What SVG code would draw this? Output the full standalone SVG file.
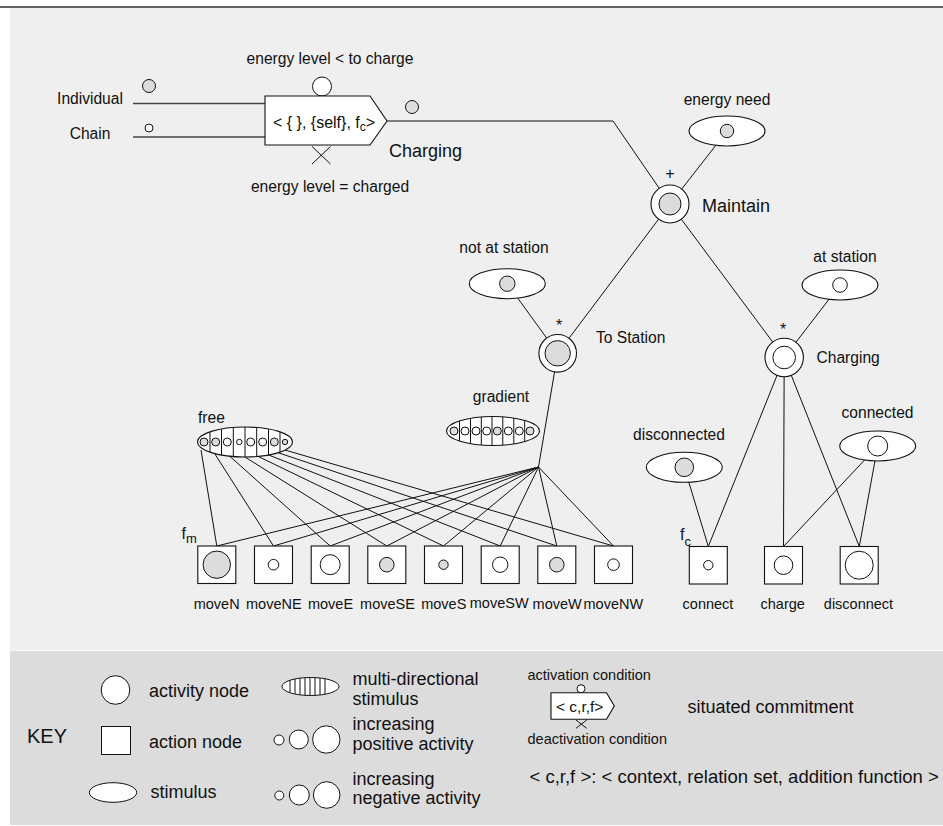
<svg xmlns="http://www.w3.org/2000/svg" width="943" height="826" viewBox="0 0 943 826">
<defs>
<style>
text{font-family:"Liberation Sans",Arial,Helvetica,sans-serif;fill:#111}
.lbl{font-size:15.6px}
.mid{text-anchor:middle}
.big{font-size:18px}
.act{font-size:14.5px;text-anchor:middle}
.key{font-size:18px}
.small{font-size:14.5px}
.ln{stroke:#111;stroke-width:1;fill:none}
.feed{stroke:#444;stroke-width:1.5;fill:none}
.shape{fill:#fff;stroke:#111;stroke-width:1.1}
.on{fill:#dcdcdc;stroke:#111;stroke-width:1}
.off{fill:#fff;stroke:#111;stroke-width:1}
.strip{stroke:#111;stroke-width:1}
</style>
<clipPath id="clipFree"><ellipse cx="245" cy="442" rx="47.5" ry="15"/></clipPath>
<clipPath id="clipGrad"><ellipse cx="493" cy="431" rx="46.5" ry="14.5"/></clipPath>
<clipPath id="clipKeyMulti"><ellipse cx="310.5" cy="686.5" rx="28.5" ry="9"/></clipPath>
</defs>

<!-- panels -->
<rect x="0" y="0" width="943" height="826" fill="#fff"/>
<rect x="10" y="8" width="933" height="642" fill="#efefef"/>
<rect x="10" y="650" width="933" height="175" fill="#dcdcdc"/>
<line x1="10" y1="650.5" x2="943" y2="650.5" stroke="#fafafa" stroke-width="1"/>
<line x1="0" y1="7" x2="943" y2="7" stroke="#666" stroke-width="2"/>

<!-- connectors -->
<g id="connectors">
  <line class="feed" x1="133" y1="103.5" x2="265" y2="103.5"/>
  <line class="feed" x1="133" y1="137" x2="265" y2="137"/>
  <polyline class="ln" points="387,121 613,121 670,204"/>
  <line class="ln" x1="727" y1="131" x2="670" y2="204"/>
  <line class="ln" x1="670" y1="204" x2="557.7" y2="353.3"/>
  <line class="ln" x1="670" y1="204" x2="784.2" y2="357.5"/>
  <line class="ln" x1="507.3" y1="283.7" x2="557.7" y2="353.3"/>
  <line class="ln" x1="840" y1="285" x2="784.2" y2="357.5"/>
  <line class="ln" x1="557.7" y1="353.3" x2="538.5" y2="467"/>
  <!-- hub to move actions -->
  <line class="ln" x1="538.5" y1="467" x2="216.8" y2="546"/>
  <line class="ln" x1="538.5" y1="467" x2="273.5" y2="546"/>
  <line class="ln" x1="538.5" y1="467" x2="330.2" y2="546"/>
  <line class="ln" x1="538.5" y1="467" x2="386.8" y2="546"/>
  <line class="ln" x1="538.5" y1="467" x2="443.5" y2="546"/>
  <line class="ln" x1="538.5" y1="467" x2="500.2" y2="546"/>
  <line class="ln" x1="538.5" y1="467" x2="556.8" y2="546"/>
  <line class="ln" x1="538.5" y1="467" x2="613.5" y2="546"/>
  <!-- free stimulus to move actions -->
  <line class="ln" x1="201" y1="450" x2="216.8" y2="546"/>
  <line class="ln" x1="213" y1="451" x2="273.5" y2="546"/>
  <line class="ln" x1="225" y1="452" x2="330.2" y2="546"/>
  <line class="ln" x1="237" y1="452" x2="386.8" y2="546"/>
  <line class="ln" x1="249" y1="452" x2="443.5" y2="546"/>
  <line class="ln" x1="261" y1="452" x2="500.2" y2="546"/>
  <line class="ln" x1="273" y1="451" x2="556.8" y2="546"/>
  <line class="ln" x1="285" y1="450" x2="613.5" y2="546"/>
  <!-- charging behaviour -->
  <line class="ln" x1="784.2" y1="357.5" x2="708.3" y2="546.5"/>
  <line class="ln" x1="784.2" y1="357.5" x2="783.5" y2="546.5"/>
  <line class="ln" x1="784.2" y1="357.5" x2="859.3" y2="546.5"/>
  <line class="ln" x1="684.3" y1="467.3" x2="708.3" y2="546.5"/>
  <line class="ln" x1="877.7" y1="446" x2="783.5" y2="546.5"/>
  <line class="ln" x1="877.7" y1="446" x2="859.3" y2="546.5"/>
</g>

<!-- inputs -->
<g id="input-individual">
  <text class="lbl mid" x="90" y="103.5">Individual</text>
  <circle class="on" cx="149" cy="86" r="6.5"/>
</g>
<g id="input-chain">
  <text class="lbl mid" x="90" y="138.5">Chain</text>
  <circle class="off" cx="149" cy="128" r="4"/>
</g>

<!-- situated commitment -->
<g id="commitment-charging">
  <text class="lbl mid" x="330" y="63.5">energy level &lt; to charge</text>
  <circle class="off" cx="322" cy="86.5" r="9.5"/>
  <polygon class="shape" points="265,96 370,96 387,121 370,145 265,145"/>
  <text x="273" y="128" style="font-size:16px">&lt; { }, {self}, f<tspan dy="3" style="font-size:12px">c</tspan><tspan dy="-3">&gt;</tspan></text>
  <path class="ln" d="M312,146.5 L330.5,164 M330.5,146.5 L312,164"/>
  <text class="lbl mid" x="330" y="191.5">energy level = charged</text>
  <text class="big" x="389" y="157">Charging</text>
  <circle class="on" cx="412" cy="107" r="6.5"/>
</g>

<!-- activity nodes -->
<g id="node-maintain">
  <circle class="shape" cx="670" cy="204" r="19"/>
  <circle class="on" cx="670" cy="204" r="11"/>
  <text class="mid" x="670" y="178.5" style="font-size:16px">+</text>
  <text class="big" x="702" y="212">Maintain</text>
</g>
<g id="node-to-station">
  <circle class="shape" cx="557.7" cy="353.3" r="18.8"/>
  <circle class="on" cx="557.7" cy="353.3" r="12.7"/>
  <text class="mid" x="559" y="331" style="font-size:16px">*</text>
  <text class="lbl" x="596" y="343">To Station</text>
</g>
<g id="node-charging">
  <circle class="shape" cx="784.2" cy="357.5" r="19.2"/>
  <circle class="off" cx="784.2" cy="357.5" r="11.3"/>
  <text class="mid" x="783" y="335" style="font-size:16px">*</text>
  <text class="lbl" x="816.5" y="362.5">Charging</text>
</g>

<!-- stimuli -->
<g id="stim-energy-need">
  <text class="lbl mid" x="727" y="105">energy need</text>
  <ellipse class="shape" cx="727" cy="131" rx="38" ry="15"/>
  <circle class="on" cx="727" cy="131" r="6.7"/>
</g>
<g id="stim-not-at-station">
  <text class="lbl mid" x="504" y="253">not at station</text>
  <ellipse class="shape" cx="507.3" cy="283.7" rx="38" ry="15"/>
  <circle class="on" cx="507.3" cy="283.7" r="7.7"/>
</g>
<g id="stim-at-station">
  <text class="lbl mid" x="845" y="261.5">at station</text>
  <ellipse class="shape" cx="840" cy="285" rx="38" ry="15"/>
  <circle class="off" cx="840" cy="285" r="7.3"/>
</g>
<g id="stim-disconnected">
  <text class="lbl mid" x="679" y="439.5">disconnected</text>
  <ellipse class="shape" cx="684.3" cy="467.3" rx="38" ry="15"/>
  <circle class="on" cx="684.3" cy="467.3" r="9.3"/>
</g>
<g id="stim-connected">
  <text class="lbl mid" x="877.5" y="417.5">connected</text>
  <ellipse class="shape" cx="877.7" cy="446" rx="38" ry="15"/>
  <circle class="off" cx="877.7" cy="446" r="10"/>
</g>
<g id="stim-free">
  <text class="lbl" x="198" y="422.5">free</text>
  <ellipse cx="245" cy="442" rx="47.5" ry="15" fill="#fff"/>
  <g clip-path="url(#clipFree)">
    <path class="strip" d="M210,425V460M221.5,425V460M233.3,425V460M245,425V460M256.7,425V460M268.5,425V460M280,425V460"/>
  </g>
  <circle class="on" cx="204" cy="442" r="4"/>
  <circle class="on" cx="215.7" cy="442" r="4"/>
  <circle class="off" cx="227.3" cy="442" r="4"/>
  <circle class="off" cx="239.3" cy="442" r="2.7"/>
  <circle class="off" cx="250.7" cy="442" r="4"/>
  <circle class="off" cx="262.7" cy="442" r="4"/>
  <circle class="on" cx="274.3" cy="442" r="4"/>
  <circle class="on" cx="285" cy="442" r="2.7"/>
  <ellipse cx="245" cy="442" rx="47.5" ry="15" fill="none" stroke="#111" stroke-width="1.1"/>
</g>
<g id="stim-gradient">
  <text class="lbl mid" x="501" y="402">gradient</text>
  <ellipse cx="493" cy="431" rx="46.5" ry="14.5" fill="#fff"/>
  <g clip-path="url(#clipGrad)">
    <path class="strip" d="M459.5,414V448M470.5,414V448M481.3,414V448M492,414V448M502.8,414V448M513.8,414V448M524.7,414V448"/>
  </g>
  <circle class="on" cx="454" cy="431" r="4"/>
  <circle class="off" cx="465" cy="431" r="4"/>
  <circle class="off" cx="476" cy="431" r="4"/>
  <circle class="off" cx="486.7" cy="431" r="4"/>
  <circle class="on" cx="497.3" cy="431" r="4"/>
  <circle class="off" cx="508.3" cy="431" r="4"/>
  <circle class="off" cx="519.3" cy="431" r="4"/>
  <circle class="on" cx="530" cy="431" r="4"/>
  <ellipse cx="493" cy="431" rx="46.5" ry="14.5" fill="none" stroke="#111" stroke-width="1.1"/>
</g>

<!-- move action nodes -->
<text x="181.5" y="538.5" style="font-size:16px">f<tspan dy="4.5" style="font-size:13px">m</tspan></text>
<g id="act-moveN">
  <rect class="shape" x="197.8" y="546" width="38" height="37.5"/>
  <circle class="on" cx="216.8" cy="564.7" r="13.7"/>
  <text class="act" x="216.7" y="608.5">moveN</text>
</g>
<g id="act-moveNE">
  <rect class="shape" x="254.5" y="546" width="38" height="37.5"/>
  <circle class="off" cx="273.5" cy="564.7" r="5.3"/>
  <text class="act" x="273.8" y="608.5">moveNE</text>
</g>
<g id="act-moveE">
  <rect class="shape" x="311.2" y="546" width="38" height="37.5"/>
  <circle class="off" cx="330.2" cy="564.7" r="10"/>
  <text class="act" x="330.5" y="608.5">moveE</text>
</g>
<g id="act-moveSE">
  <rect class="shape" x="367.8" y="546" width="38" height="37.5"/>
  <circle class="on" cx="386.8" cy="564.7" r="7.3"/>
  <text class="act" x="387.5" y="608.5">moveSE</text>
</g>
<g id="act-moveS">
  <rect class="shape" x="424.5" y="546" width="38" height="37.5"/>
  <circle class="on" cx="443.5" cy="564.7" r="4.7"/>
  <text class="act" x="443.8" y="608.5">moveS</text>
</g>
<g id="act-moveSW">
  <rect class="shape" x="481.2" y="546" width="38" height="37.5"/>
  <circle class="off" cx="500.2" cy="564.7" r="7.7"/>
  <text class="act" x="499.2" y="608">moveSW</text>
</g>
<g id="act-moveW">
  <rect class="shape" x="537.8" y="546" width="38" height="37.5"/>
  <circle class="on" cx="556.8" cy="564.7" r="7.3"/>
  <text class="act" x="557.2" y="608.5">moveW</text>
</g>
<g id="act-moveNW">
  <rect class="shape" x="594.5" y="546" width="38" height="37.5"/>
  <circle class="off" cx="613.5" cy="564.7" r="5.8"/>
  <text class="act" x="613.3" y="608.5">moveNW</text>
</g>

<!-- charging action nodes -->
<text x="680" y="540" style="font-size:16px">f<tspan dy="5.5" style="font-size:13px">c</tspan></text>
<g id="act-connect">
  <rect class="shape" x="689.3" y="546.5" width="38" height="37.5"/>
  <circle class="off" cx="708.3" cy="565.2" r="4.7"/>
  <text class="act" x="708" y="608.5">connect</text>
</g>
<g id="act-charge">
  <rect class="shape" x="764.5" y="546.5" width="38" height="37.5"/>
  <circle class="off" cx="783.5" cy="565.2" r="9.3"/>
  <text class="act" x="782.7" y="608.5">charge</text>
</g>
<g id="act-disconnect">
  <rect class="shape" x="840.2" y="546.5" width="38" height="37.5"/>
  <circle class="off" cx="859.2" cy="565.2" r="14"/>
  <text class="act" x="858.5" y="608.5">disconnect</text>
</g>

<!-- key -->
<g id="key">
  <text x="27" y="743" style="font-size:20px">KEY</text>
  <circle class="off" cx="115.5" cy="690" r="14.3"/>
  <text class="key" x="149" y="696.5">activity node</text>
  <rect class="off" x="101.5" y="726.5" width="29" height="28"/>
  <text class="key" x="149" y="747.5">action node</text>
  <ellipse class="off" cx="113" cy="792.5" rx="23.7" ry="9.8"/>
  <text class="key" x="150.5" y="797.5">stimulus</text>

  <ellipse cx="310.5" cy="686.5" rx="28.5" ry="9" fill="#fff"/>
  <g clip-path="url(#clipKeyMulti)">
    <path class="strip" d="M290,676V698M295,676V698M300,676V698M305,676V698M310,676V698M315,676V698M320,676V698M325,676V698"/>
  </g>
  <ellipse cx="310.5" cy="686.5" rx="28.5" ry="9" fill="none" stroke="#111" stroke-width="1"/>
  <text class="key" x="352.5" y="684.5">multi-directional</text>
  <text class="key" x="352.5" y="705">stimulus</text>

  <circle class="off" cx="279" cy="740" r="5"/>
  <circle class="off" cx="298.8" cy="739.5" r="9.5"/>
  <circle class="off" cx="326.3" cy="739.5" r="13.7"/>
  <text class="key" x="352.5" y="730">increasing</text>
  <text class="key" x="352.5" y="749.5">positive activity</text>

  <circle class="off" cx="279.3" cy="795.5" r="4.5"/>
  <circle class="off" cx="299.3" cy="795" r="10"/>
  <circle class="off" cx="326.7" cy="795" r="13.3"/>
  <text class="key" x="352.5" y="784.5">increasing</text>
  <text class="key" x="352.5" y="804">negative activity</text>

  <text class="small" x="527.5" y="679.5">activation condition</text>
  <circle class="off" cx="581" cy="688.7" r="4"/>
  <polygon class="shape" points="551,692.7 606.5,692.7 614.3,706 606.5,719.3 551,719.3"/>
  <text x="556" y="711.7" style="font-size:15.5px">&lt; c,r,f&gt;</text>
  <path class="ln" d="M576,720 L586.7,728.3 M586.7,720 L576,728.3"/>
  <text class="small" x="527.5" y="743.5">deactivation condition</text>
  <text class="key" x="687.5" y="712.7">situated commitment</text>
  <text x="529.5" y="782.7" style="font-size:18.5px">&lt; c,r,f &gt;: &lt; context, relation set, addition function &gt;</text>
</g>
</svg>
